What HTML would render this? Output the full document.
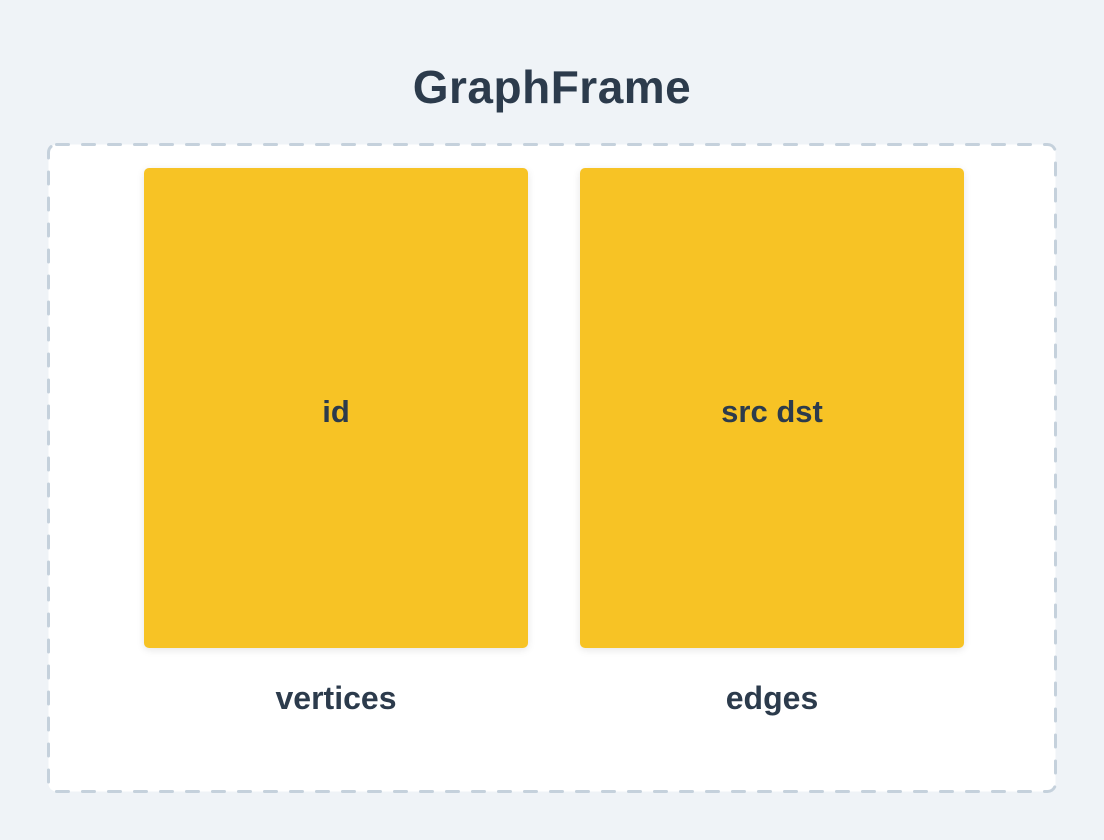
<!DOCTYPE html>
<html><head><style>
body{margin:0;width:1104px;height:840px;background:#eff3f7;font-family:"Liberation Sans",sans-serif;color:#2c3b4c;position:relative;overflow:hidden}
.t{position:absolute;left:0;width:1104px;top:60px;text-align:center;font-size:46px;font-weight:bold;letter-spacing:0.5px}
svg{position:absolute;left:0;top:0}
.b{position:absolute;top:172px;width:384px;height:480px;background:#f7c325;display:flex;align-items:center;justify-content:center;font-size:31px;font-weight:bold}
.bb{position:absolute;top:168px;width:384px;height:480px;background:#f7c325;border-radius:5px;box-shadow:0 2px 8px rgba(0,0,0,0.1)}
.l{position:absolute;top:680px;width:384px;text-align:center;font-size:32px;font-weight:bold}
</style></head><body>
<div class="t">GraphFrame</div>
<svg width="1104" height="840"><rect x="48.5" y="144.5" width="1007" height="647" rx="8" fill="#fff" stroke="#c5d1dc" stroke-width="3" stroke-dasharray="12 14" stroke-linecap="round"/></svg>
<div class="bb" style="left:144px"></div>
<div class="bb" style="left:580px"></div>
<div class="b" style="left:144px;background:none">id</div>
<div class="b" style="left:580px;background:none">src dst</div>
<div class="l" style="left:144px">vertices</div>
<div class="l" style="left:580px">edges</div>
</body></html>
